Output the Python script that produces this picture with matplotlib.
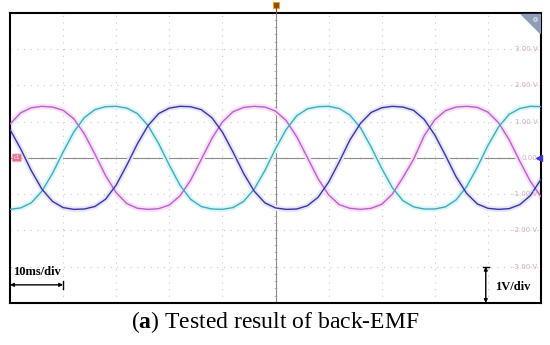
import matplotlib.pyplot as plt
import numpy as np

plt.rcParams['mathtext.fontset'] = 'custom'
plt.rcParams['mathtext.rm'] = 'Liberation Serif'
plt.rcParams['mathtext.bf'] = 'Liberation Serif:bold'

# time axis (ms) and the three back-EMF traces (V)
t_ms = list(range(0, 101, 2))

phase_pink = [0.93, 1.24, 1.38, 1.42, 1.40, 1.31, 1.08, 0.66, 0.10, -0.49,
              -0.96, -1.26, -1.39, -1.42, -1.40, -1.30, -1.05, -0.62, -0.05, 0.53,
              0.99, 1.27, 1.39, 1.42, 1.40, 1.29, 1.03, 0.58, 0.01, -0.57,
              -1.02, -1.29, -1.39, -1.42, -1.39, -1.28, -1.00, -0.54, -0.04, 0.61,
              1.05, 1.30, 1.40, 1.42, 1.39, 1.26, 0.97, 0.50, -0.09, -0.65,
              -1.07]

phase_cyan = [-1.42, -1.38, -1.24, -0.92, -0.43, 0.16, 0.71, 1.11, 1.33, 1.41,
              1.42, 1.37, 1.22, 0.89, 0.39, -0.20, -0.75, -1.14, -1.34, -1.41,
              -1.42, -1.37, -1.20, -0.86, -0.35, 0.25, 0.78, 1.16, 1.35, 1.41,
              1.42, 1.36, 1.18, 0.83, 0.30, -0.29, -0.82, -1.18, -1.35, -1.41,
              -1.41, -1.35, -1.16, -0.79, -0.26, 0.34, 0.85, 1.20, 1.36, 1.42,
              1.41]

phase_blue = [0.78, 0.25, -0.35, -0.86, -1.20, -1.37, -1.42, -1.41, -1.34, -1.14,
              -0.75, -0.20, 0.39, 0.89, 1.22, 1.37, 1.42, 1.41, 1.33, 1.11,
              0.71, 0.16, -0.43, -0.92, -1.24, -1.38, -1.42, -1.41, -1.32, -1.09,
              -0.67, -0.11, 0.49, 0.95, 1.25, 1.38, 1.42, 1.40, 1.31, 1.06,
              0.63, 0.07, -0.52, -0.98, -1.27, -1.39, -1.42, -1.40, -1.29, -1.04,
              -0.59]

volt_ticks = [3, 2, 1, 0, -1, -2, -3]
volt_labels = ['3.00 V', '2.00 V', '1.00 V', '0.00', '-1.00 V', '-2.00 V', '-3.00 V']

fig = plt.figure(figsize=(5.5, 3.45), dpi=100)
ax = fig.add_axes([10 / 550, 1 - 303 / 345, 531 / 550, 290.3 / 345])
ax.set_xlim(0, 100)
ax.set_ylim(-4, 4)
ax.set_xticks([])
ax.set_yticks([])
for s in ax.spines.values():
    s.set_linewidth(1.5)
    s.set_color('black')

# dotted screen grid
for gx in range(10, 100, 10):
    if gx != 50:
        ax.axvline(gx, color='#c8c8c8', lw=0.8, ls=(0, (1, 5)), zorder=0)
for gy in [-3, -2, -1, 1, 2, 3]:
    ax.axhline(gy, color='#c8c8c8', lw=0.8, ls=(0, (1, 5)), zorder=0)

# centre cross with small ticks
ax.plot([0, 96], [0, 0], color='#8a8a8a', lw=0.8, zorder=1)
ax.axvline(50, color='#8a8a8a', lw=0.8, zorder=1)
tx = np.arange(2, 96, 2)
ax.vlines(tx, -0.035, 0.035, color='#a0a0a0', lw=0.5, zorder=1)
ty = np.arange(-3.8, 4.0, 0.2)
ax.hlines(ty, 49.7, 50.3, color='#a0a0a0', lw=0.5, zorder=1)

# traces with pale halo
traces = [(phase_pink, '#b463cc', '#fae0f7'),
          (phase_cyan, '#45a8ba', '#daf7f9'),
          (phase_blue, '#3833a6', '#e6e6f6')]
for vals, c, halo in traces:
    ax.plot(t_ms, vals, color=halo, lw=4, solid_capstyle='round', zorder=2)
for vals, c, halo in traces:
    ax.plot(t_ms, vals, color=c, lw=1.0, zorder=3)

# channel scale labels at the right
for v, lab in zip(volt_ticks, volt_labels):
    ax.text(99.3, v, lab, ha='right', va='center', fontsize=5,
            color='#d9a9bb', zorder=4)
ax.plot([99.6], [0], marker='<', color='#3a3ad0', ms=4, clip_on=False, zorder=5)

# channel marker on the left
ax.text(1.3, 0, 'c1', ha='center', va='center', fontsize=4, color='white',
        bbox=dict(boxstyle='round,pad=0.25', fc='#e8708e', ec='#f4b0c4', lw=0.6), zorder=5)

# trigger marker on top
ax.plot([50], [4.22], marker='s', ms=5, color='#8b4a10', mec='#f0a020', mew=0.8,
        clip_on=False, zorder=5)
ax.plot([50, 50], [4.0, 4.12], color='#8b4a10', lw=0.8, clip_on=False, zorder=5)

# zoom icon at top-right corner
ax.fill([96.2, 99.9, 99.9], [3.97, 3.97, 3.45], color='#8d9db5', zorder=5)
ax.plot([98.9], [3.83], marker='o', ms=2.5, mfc='none', mec='white', mew=0.6, zorder=6)

# scale annotations
ax.annotate('', xy=(0, -3.5), xytext=(10, -3.5),
            arrowprops=dict(arrowstyle='<|-|>', color='black', lw=1.0,
                            mutation_scale=5, shrinkA=0, shrinkB=0))
ax.plot([10, 10], [-3.62, -3.38], color='black', lw=1.0)
ax.text(0.6, -3.3, '10ms/div', ha='left', va='bottom', fontsize=9,
        fontweight='bold', family='Liberation Serif')

ax.annotate('', xy=(89.6, -3.0), xytext=(89.6, -4.0),
            arrowprops=dict(arrowstyle='<|-|>', color='black', lw=1.0,
                            mutation_scale=5, shrinkA=0, shrinkB=0))
ax.plot([89.0, 90.2], [-3.0, -3.0], color='black', lw=1.0)
ax.text(91.4, -3.55, '1V/div', ha='left', va='center', fontsize=9,
        fontweight='bold', family='Liberation Serif')

fig.text(0.5, 1 - 322 / 345, r'($\mathbf{a}$) Tested result of back-EMF',
         ha='center', va='center', fontsize=17, family='Liberation Serif')

fig.savefig('out.png', dpi=100)
